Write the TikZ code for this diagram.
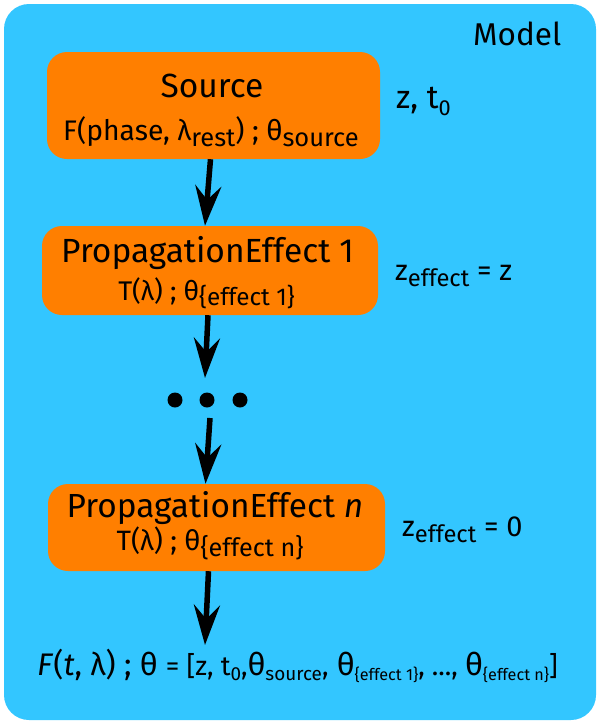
\documentclass[tikz,border=0pt]{standalone}
\usepackage{fontspec}
\setmainfont{Fira Sans}
\usetikzlibrary{arrows.meta}
\definecolor{bg}{HTML}{33C6FF}
\definecolor{org}{HTML}{FF7F00}
\makeatletter
\newcommand\dn[2][0.72]{\raisebox{-0.22em}{\fontsize{\fpeval{#1*\f@size}}{0}\selectfont #2}}
\makeatother
\newcommand\fs[1]{\fontsize{#1}{#1}\selectfont}
\begin{document}
\begin{tikzpicture}[x=1pt,y=-1pt,
 box/.style={fill=org, rounded corners=20pt, inner sep=0pt},
 txt/.style={anchor=base, inner sep=0pt},
 lbl/.style={anchor=base west, inner sep=0pt},
 arr/.style={line width=5.5pt, -{Stealth[width=26pt,length=40pt,inset=14pt]}},
 blob/.style={circle, fill=black, minimum size=15pt, inner sep=0pt}]
\useasboundingbox (0,0) rectangle (600,724);
\fill[bg, rounded corners=25pt] (4,4) rectangle (596,720);
\node[lbl] (model) at (473,45) {\fs{31.5}Model};
% Source
\node[box, minimum width=333pt, minimum height=107pt] (src) at (213.5,105.5) {};
\node[txt] (srcA) at (212,97) {\fs{33.5}Source};
\node[txt] (srcB) at (211,140) {\fs{28.3}F(phase, λ\dn[0.9]{rest}) ; θ\dn[0.9]{source}};
\node[lbl] (zt) at (396,108) {\fs{32.5}z, t\dn[0.67]{0}};
% Effect 1
\node[box, minimum width=336pt, minimum height=89pt] (pe1) at (210,270.5) {};
\node[txt] (pe1A) at (207.5,262) {\fs{33.5}PropagationEffect 1};
\node[txt] (pe1B) at (206.5,300) {\fs{27}T(λ) ; θ\dn[0.9]{\{effect 1\}}};
\node[lbl] (ze1) at (395,280) {\fs{29}z\dn[0.82]{effect} = z};
% dots
\node[blob] (d1) at (175,400) {};
\node[blob] (d2) at (207,400) {};
\node[blob] (d3) at (240,400) {};
% Effect n
\node[box, minimum width=337pt, minimum height=87pt] (pen) at (216.5,527.5) {};
\node[txt] (penA) at (215,517) {\fs{33.4}PropagationEffect \textit{n}};
\node[txt] (penB) at (210,550) {\fs{28}T(λ) ; θ\dn[0.9]{\{effect n\}}};
\node[lbl] (zen) at (402,536) {\fs{29}z\dn[0.82]{effect} = 0};
% result
\node[lbl] (res) at (37,675) {\fs{31.2}\textit{F}(\textit{t}, λ) ; θ {\fs{27}= [z, t\dn[0.7]{0},}θ{\fs{27}\dn[0.7]{source},} θ{\fs{27}\dn[0.6]{\{effect 1\}}, ..., }θ{\fs{27}\dn[0.6]{\{effect n\}}]}};
% arrows
\coordinate (a2) at (205,378);
\coordinate (a3) at (210,418);
\coordinate (a4) at (205,645);
\draw[arr] ([xshift=-3pt]src.south) -- ([xshift=-5pt]pe1.north);
\draw[arr] ([xshift=-2pt]pe1.south) -- (a2);
\draw[arr] (a3) -- ([xshift=-11pt]pen.north);
\draw[arr] ([xshift=-8pt]pen.south) -- (a4);
\end{tikzpicture}
\end{document}
